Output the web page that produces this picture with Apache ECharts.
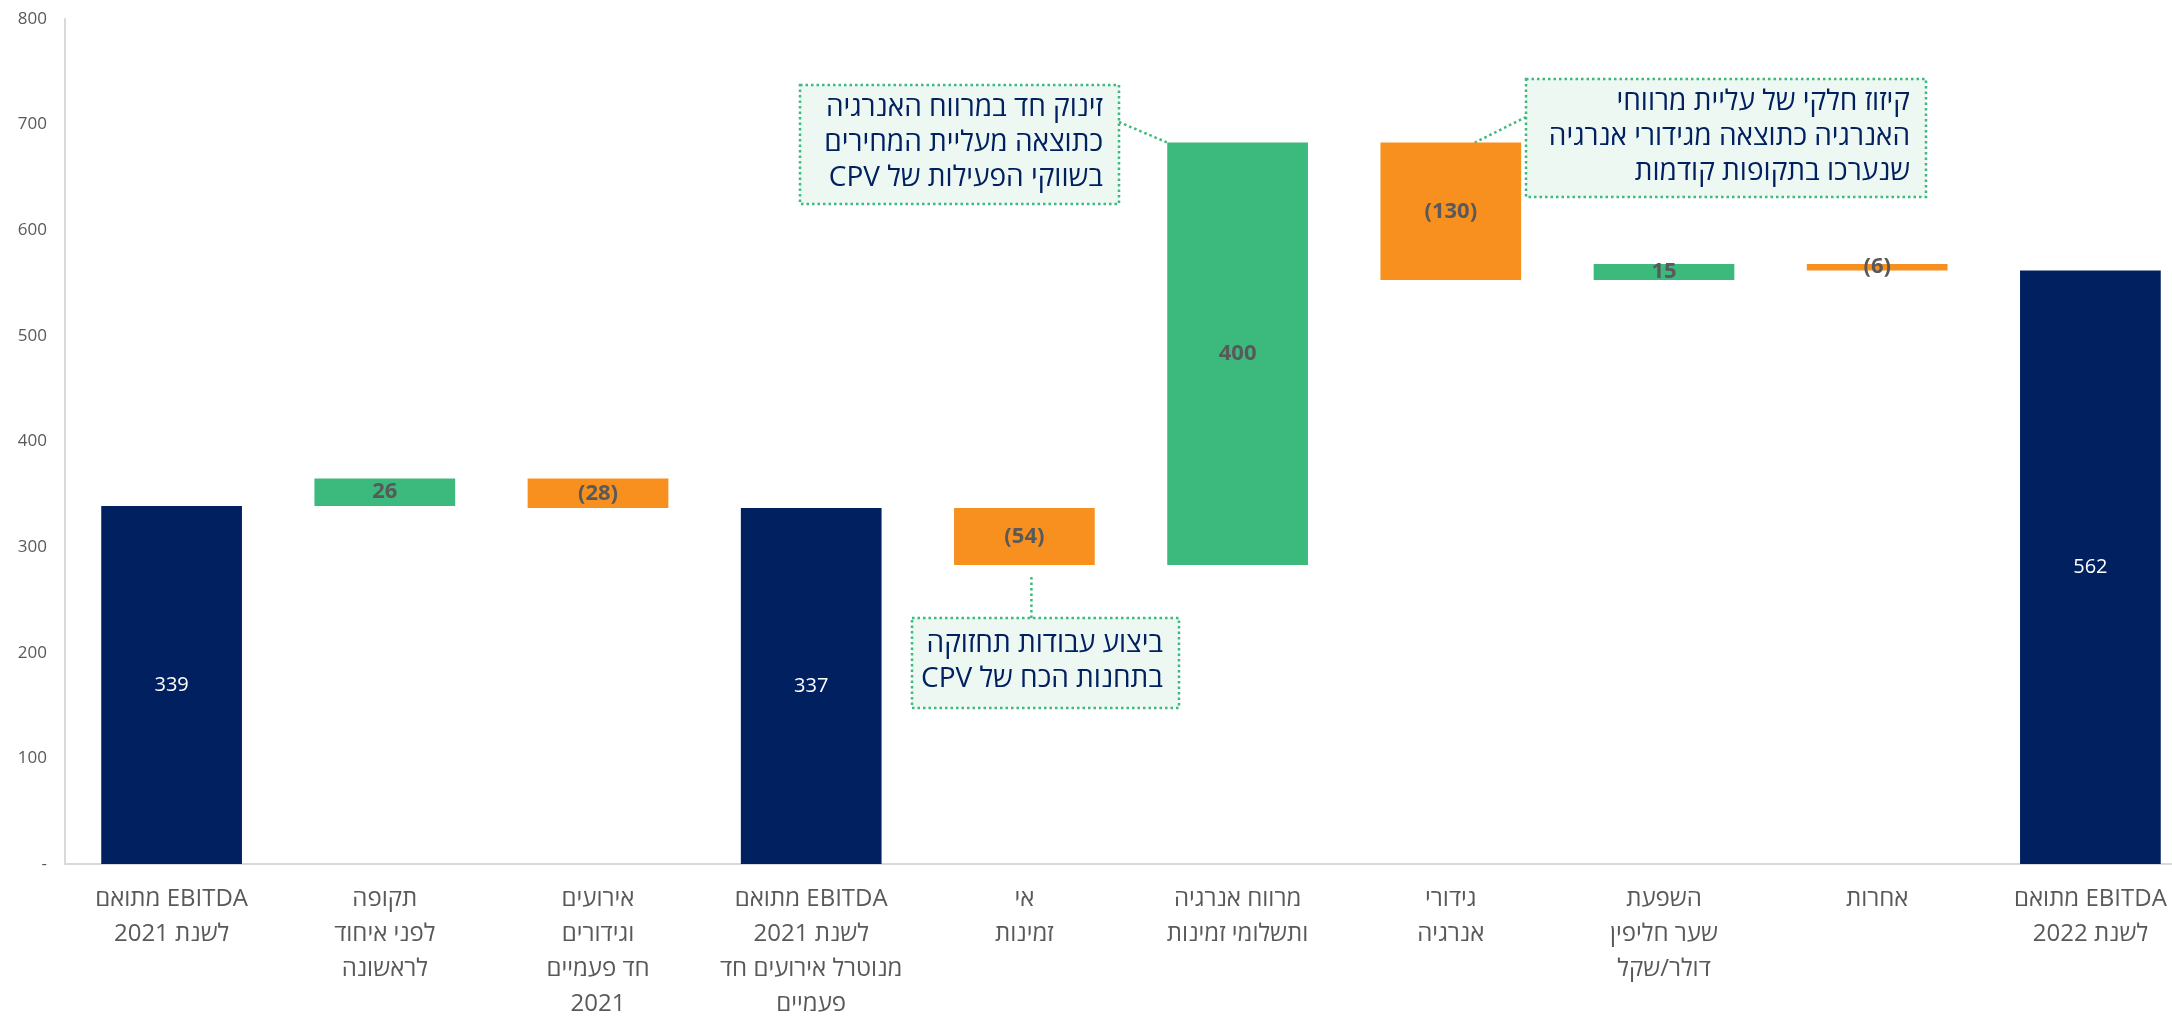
<!DOCTYPE html>
<html dir="rtl">
<head>
<meta charset="utf-8">
<script src="https://cdn.jsdelivr.net/npm/echarts@6/dist/echarts.min.js"></script>
<style>
  html, body { margin: 0; padding: 0; background: #fff; overflow: hidden; }
  #main { width: 2172px; height: 1019px; }
</style>
</head>
<body>
<div id="main"></div>
<script>
var categories = [
  'EBITDA מתואם\nלשנת 2021',
  'תקופה\nלפני איחוד\nלראשונה',
  'אירועים\nוגידורים\nחד פעמיים\n2021',
  'EBITDA מתואם\nלשנת 2021\nמנוטרל אירועים חד\nפעמיים',
  'אי\nזמינות',
  'מרווח אנרגיה\nותשלומי זמינות',
  'גידורי\nאנרגיה',
  'השפעת\nשער חליפין\nדולר/שקל',
  'אחרות',
  'EBITDA מתואם\nלשנת 2022'
];
var changes = [339, 26, -28, 337, -54, 400, -130, 15, -6, 562];
var kinds = ['total', 'up', 'down', 'total', 'down', 'up', 'down', 'up', 'down', 'total'];
var yTicks = [0, 100, 200, 300, 400, 500, 600, 700, 800];

// callout texts
var noteSpike = 'זינוק חד במרווח האנרגיה\nכתוצאה מעליית המחירים\nבשווקי הפעילות של CPV';
var noteHedge = 'קיזוז חלקי של עליית מרווחי\nהאנרגיה כתוצאה מגידורי אנרגיה\nשנערכו בתקופות קודמות';
var noteMaint = 'ביצוע עבודות תחזוקה\nבתחנות הכח של CPV';

var colors = { total: '#012060', up: '#3cb97c', down: '#f7901e' };
var FONT = '"Open Sans", "Noto Sans", "DejaVu Sans", sans-serif';

// build waterfall: invisible base + visible part
var baseData = [], barData = [], tops = [], bottoms = [];
var running = 0;
for (var i = 0; i < changes.length; i++) {
  var v = changes[i];
  if (kinds[i] === 'total') {
    baseData.push(0);
    running = v;
    tops.push(v); bottoms.push(0);
    barData.push({ value: v, itemStyle: { color: colors.total },
      label: { color: '#ffffff', fontWeight: 'normal', fontSize: 20 } });
  } else {
    var start = running, end = running + v;
    baseData.push(Math.min(start, end));
    tops.push(Math.max(start, end)); bottoms.push(Math.min(start, end));
    barData.push({ value: Math.abs(v), raw: v, itemStyle: { color: colors[kinds[i]] } });
    running = end;
  }
}

var myChart = echarts.init(document.getElementById('main'));
var option = {
  animation: false,
  textStyle: { fontFamily: FONT },
  grid: { left: 65, right: -25, top: 19, bottom: 155, outerBoundsMode: 'none', containLabel: false },
  xAxis: {
    type: 'category',
    data: categories,
    axisTick: { show: false },
    axisLine: { lineStyle: { color: '#d9d9d9', width: 2 } },
    axisLabel: { interval: 0, color: '#595959', fontSize: 24, lineHeight: 35,
      margin: 18, fontFamily: FONT, hideOverlap: false }
  },
  yAxis: {
    type: 'value', min: 0, max: 800, interval: 100,
    splitLine: { show: false },
    axisLine: { show: true, lineStyle: { color: '#d9d9d9', width: 2 } },
    axisLabel: { color: '#595959', fontSize: 17, margin: 18, fontFamily: FONT,
      formatter: function (val) { return val === 0 ? '-' : String(val); } }
  },
  series: [
    { type: 'bar', stack: 'w', data: baseData, barWidth: '66%', silent: true,
      itemStyle: { color: 'transparent' } },
    { type: 'bar', stack: 'w', data: barData, barWidth: '66%',
      label: { show: true, position: 'inside', fontSize: 22, fontWeight: 'bold',
        color: '#595959', fontFamily: FONT,
        formatter: function (p) {
          var raw = p.data.raw !== undefined ? p.data.raw : p.value;
          return raw < 0 ? '(' + Math.abs(raw) + ')' : String(raw);
        } } }
  ]
};
myChart.setOption(option);

// callouts anchored to bars
function px(idx, val) { return myChart.convertToPixel({ gridIndex: 0 }, [idx, val]); }
var band = px(1, 0)[0] - px(0, 0)[0];
var half = band * 0.66 / 2;

function box(x, y, w, h, text, padTop) {
  return {
    type: 'group', children: [
      { type: 'rect', shape: { x: x, y: y, width: w, height: h },
        style: { fill: '#eef8f3', stroke: '#3cb97c', lineWidth: 2.5, lineDash: [2.5, 3] } },
      { type: 'text', style: { x: x + w - 16, y: y + padTop, text: text, align: 'right',
        verticalAlign: 'top', fill: '#002060', fontSize: 28, lineHeight: 35,
        fontFamily: FONT } }
    ]
  };
}
function link(a, b) {
  return { type: 'line', shape: { x1: a[0], y1: a[1], x2: b[0], y2: b[1] },
    style: { stroke: '#3cb97c', lineWidth: 2.5, lineDash: [2.5, 3] } };
}

var p5 = px(5, tops[5]);
var p6 = px(6, tops[6]);
var p4 = px(4, bottoms[4]);
myChart.setOption({
  graphic: [
    box(800, 85, 319, 119, noteSpike, 6),
    link([1119, 122], [p5[0] - half, p5[1]]),
    box(1526, 79, 400, 118, noteHedge, 6),
    link([1526, 117], [p6[0] + 24, p6[1]]),
    box(912, 618, 267, 90, noteMaint, 9),
    link([p4[0] + 7, p4[1] + 12], [p4[0] + 7, 618])
  ]
});
</script>
</body>
</html>
